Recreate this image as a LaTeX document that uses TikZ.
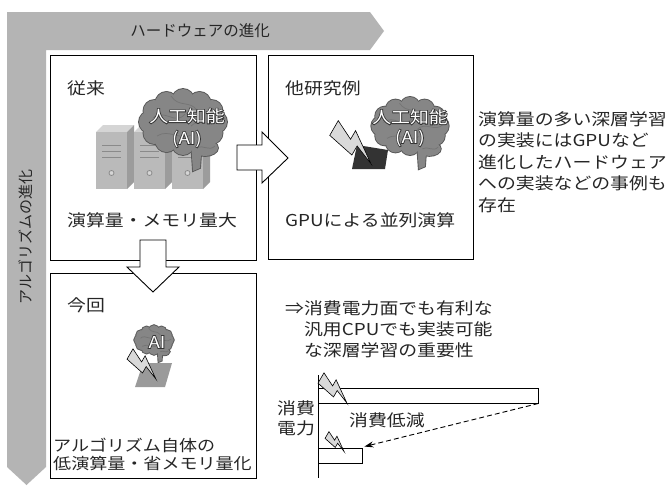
\documentclass[tikz,border=0pt]{standalone}
\usepackage{fontspec}
\usetikzlibrary{arrows.meta}
\setmainfont{Noto Sans CJK JP}
\newfontfamily\jp[FakeStretch=1.15]{Noto Sans CJK JP}
\newfontfamily\jprim[FakeStretch=1.15, FakeBold=9]{Noto Sans CJK JP}
\newfontfamily\jpn{Noto Sans CJK JP}

\definecolor{bandgray}{HTML}{B4B4B4}
\definecolor{brainfill}{HTML}{868686}
\definecolor{brainrim}{HTML}{575757}
\definecolor{srvfront}{HTML}{BABABA}
\definecolor{srvside}{HTML}{9C9C9C}
\definecolor{srvtop}{HTML}{D5D5D5}
\definecolor{srvline}{HTML}{8A8A8A}
\definecolor{chipdark}{HTML}{333333}
\definecolor{chipgray}{HTML}{9A9A9A}
\definecolor{ink}{HTML}{262626}

\tikzset{
  panel/.style={draw=black, line width=1pt, fill=white, inner sep=0pt},
  lbl/.style={font=\jp\fontsize{16.4}{21.5}\selectfont, inner sep=0pt, anchor=west, text=ink, align=left},
  blockarrow/.style={draw=black, line width=0.9pt, fill=white, line join=miter},
  bar/.style={draw=black, line width=0.9pt, fill=white, inner sep=0pt, minimum height=15pt},
  boltfill/.style={draw=black, line width=0.6pt, fill=gray!30, line join=miter},
  brainline/.style={draw=brainrim, line width=1.8pt},
  brainbody/.style={fill=brainfill},
  gyrus/.style={draw=black!60, line width=0.7pt, opacity=0.55},
  brainrimtext/.style={font=\jprim\fontsize{16.4}{19}\selectfont, inner sep=0pt, text=black!80},
  braintext/.style={font=\jp\fontsize{16.4}{19}\selectfont, inner sep=0pt, text=white},
  % lobed brain outline: rim layer first, then the body on top
  brain/.pic={
    \foreach \a in {0,30,...,330}{\path[brainline] (\a:33 and 22) circle (11);}
    \path[brainline] (0,0) ellipse (33 and 22);
    \path[brainline] (22,26) ellipse (13 and 8);
    \path[brainline] (8,20) -- (19,20) -- (17,46) -- (10,49) -- cycle;
    \foreach \a in {0,30,...,330}{\path[brainbody] (\a:33 and 22) circle (11);}
    \path[brainbody] (0,0) ellipse (33 and 22);
    \path[brainbody] (22,26) ellipse (13 and 8);
    \path[brainbody] (8,20) -- (19,20) -- (17,46) -- (10,49) -- cycle;
    \draw[gyrus] (-30,-4) .. controls (-18,-14) and (-8,4) .. (2,-8);
    \draw[gyrus] (-12,-26) .. controls (-4,-14) and (6,-22) .. (14,-12);
    \draw[gyrus] (8,4) .. controls (18,-6) and (28,8) .. (38,-2);
    \draw[gyrus] (-26,14) .. controls (-14,6) and (-2,20) .. (10,12);
    \draw[gyrus] (14,26) .. controls (20,22) and (26,30) .. (32,24);
  },
  % tower server seen slightly from the right
  server/.pic={
    \fill[srvtop] (0,0) -- (7,-7) -- (38,-7) -- (31,0) -- cycle;
    \fill[srvside] (31,0) -- (38,-7) -- (38,50) -- (31,57) -- cycle;
    \fill[srvfront] (0,0) rectangle (31,57);
    \foreach \v in {13,19,25}{\draw[srvline, line width=1pt] (6,\v) -- (25,\v);}
    \draw[srvline, line width=0.8pt, fill=srvtop] (15.5,41) circle (2.5);
  },
  % lightning bolt, tail at the origin, tip near (1,0.25)
  bolt/.pic={
    \filldraw[boltfill] (0,0.17) -- (0,-0.17) -- (0.4,0.03) -- (0.4,-0.17)
      -- (1,0.25) -- (0.58,0.08) -- (0.58,0.29) -- cycle;
  },
}

\begin{document}
\begin{tikzpicture}[x=1pt, y=-1pt]
\useasboundingbox (0,0) rectangle (670,490);
\fill[white] (0,0) rectangle (670,490);

% the two evolution bands
\fill[bandgray] (7,12) -- (370,12) -- (384,31) -- (370,50) -- (46,50)
  -- (46,467) -- (26.5,485) -- (7,467) -- cycle;
\node[font=\jpn\fontsize{15.5}{17}\selectfont, text=ink, inner sep=0pt] (hw) at (200,31) {ハードウェアの進化};
\node[font=\jpn\fontsize{15}{17}\selectfont, text=ink, inner sep=0pt, rotate=90] (alg) at (26,237) {アルゴリズムの進化};

% panels
\node[panel, minimum width=206pt, minimum height=205pt] (b1) at (153,157.5) {};
\node[panel, minimum width=205pt, minimum height=204pt] (b2) at (370.5,157) {};
\node[panel, minimum width=206pt, minimum height=205pt] (b3) at (153,375.5) {};

% panel 1: servers and brain
\pic at (96,132) {server};
\pic at (134,132) {server};
\pic at (172,132) {server};
\pic at (183,122) {brain};
\node[brainrimtext] (ai1r) at (187,116) {人工知能};
\node[braintext] (ai1) at (187,116) {人工知能};
\node[brainrimtext] (ai1br) at (187,139) {(AI)};
\node[braintext] (ai1b) at (187,139) {(AI)};
\node[lbl] (t1) at (67,88) {従来};
\node[lbl] (t1b) at (67,220) {演算量・メモリ量大};

% panel 2: GPU and brain
\fill[chipdark] (357,145) -- (388,150) -- (385,169) -- (352,169) -- cycle;
\pic[scale=50, rotate=-30] at (334,128) {bolt};
\pic[scale=0.88] at (410,126) {brain};
\node[brainrimtext] (ai2r) at (410,117) {人工知能};
\node[braintext] (ai2) at (410,117) {人工知能};
\node[brainrimtext] (ai2br) at (410,138) {(AI)};
\node[braintext] (ai2b) at (410,138) {(AI)};
\node[lbl] (t2) at (285,88) {他研究例};
\node[lbl] (t2b) at (285,220) {GPUによる並列演算};

% panel 3: CPU and small brain
\pic[scale=0.45] at (154,340) {brain};
\fill[chipgray] (143,363) -- (172,363) -- (165,387) -- (135,387) -- cycle;
\pic[scale=35, rotate=-30] at (130,354) {bolt};
\node[brainrimtext] (ai3r) at (157,342) {AI};
\node[braintext] (ai3) at (157,342) {AI};
\node[lbl] (t3) at (67,305) {今回};
\node[lbl, font=\jp\fontsize{15.7}{17.7}\selectfont] (t3b) at (53,454.5) {アルゴリズム自体の\\低演算量・省メモリ量化};

% block arrows between panels
\filldraw[blockarrow] (237,145) -- (262,145) -- (262,132) -- (288,158)
  -- (262,183) -- (262,170) -- (237,170) -- cycle;
\filldraw[blockarrow] (140,240) -- (166,240) -- (166,267) -- (179,267)
  -- (153,292) -- (127,267) -- (140,267) -- cycle;

% side note
\node[lbl] (note) at (478,162) {演算量の多い深層学習\\の実装にはGPUなど\\進化したハードウェア\\への実装などの事例も\\存在};

% conclusion
\node[lbl, font=\jp\fontsize{16.4}{21}\selectfont] (concl) at (285,329) {⇒消費電力面でも有利な\\\phantom{⇒}汎用CPUでも実装可能\\\phantom{⇒}な深層学習の重要性};

% power chart
\coordinate (axtop) at (318,375);
\coordinate (axbot) at (318,478);
\draw[black, line width=0.9pt] (axtop) -- (axbot);
\node[bar, minimum width=220pt] (big) at (428,395.5) {};
\node[bar, minimum width=44pt] (small) at (340,455.5) {};
\pic[scale=35, rotate=-30] at (321,378) {bolt};
\pic[scale=23, rotate=-30] at (327,435) {bolt};
\draw[black, line width=0.9pt, dash pattern=on 5pt off 3pt, -{Stealth[length=9pt, width=6pt]}]
  (big.south east) -- ([shift={(2pt,1pt)}]small.north east);
\node[lbl, font=\jp\fontsize{16.4}{20}\selectfont] (yl) at (277,418) {消費\\電力};
\node[lbl] (cut) at (349,420) {消費低減};
\end{tikzpicture}
\end{document}
